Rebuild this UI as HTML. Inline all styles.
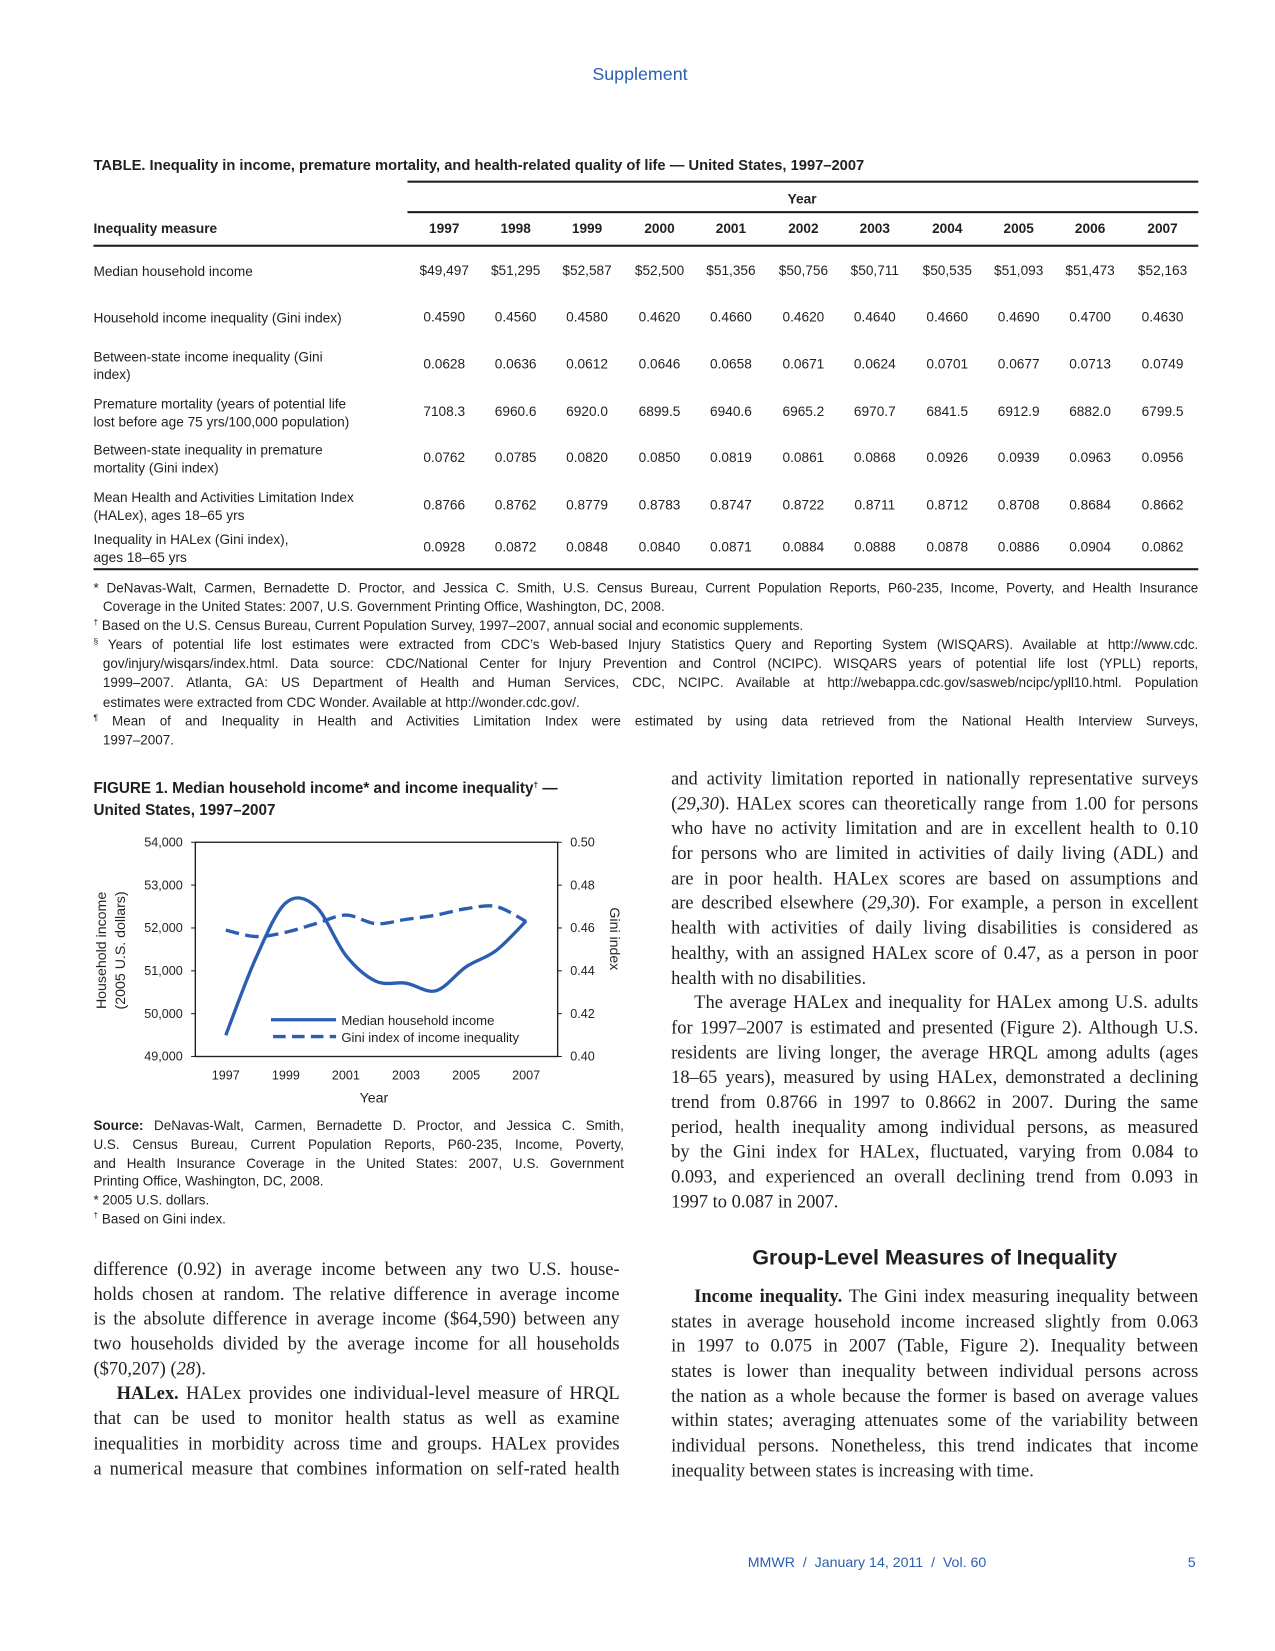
<!DOCTYPE html>
<html><head><meta charset="utf-8">
<style>
html,body{margin:0;padding:0;background:#fff;}
body{width:1275px;height:1651px;overflow:hidden;position:relative;}
#pg{position:absolute;left:0;top:0;width:1214px;height:1572px;transform:scale(1.0502);transform-origin:0 0;font-family:"Liberation Sans",sans-serif;color:#231f20;}
.a{position:absolute;white-space:nowrap;}
.blue{color:#2b5eb0;}
.rule{position:absolute;background:#231f20;}
.t{position:absolute;font-size:13px;line-height:16px;}
.c{position:absolute;font-size:13px;width:70px;text-align:center;}
sup.m{font-size:8px;vertical-align:0;position:relative;top:-5px;line-height:0;}
.fn{position:absolute;left:89px;width:1052px;font-size:12.8px;line-height:18.1px;}
.fn div{white-space:nowrap;text-align:justify;text-align-last:justify;height:18.1px;}
.fn div.e{text-align-last:left;}
.fn div.i{padding-left:9px;}
.col{position:absolute;font-family:"Liberation Serif",serif;font-size:17.6px;line-height:23.7px;}
.col div{white-space:nowrap;text-align:justify;text-align-last:justify;height:23.7px;}
.col div.e{text-align-last:left;}
.col div.p{text-indent:22px;}
.src{position:absolute;left:89px;width:505px;font-size:12.8px;line-height:17.8px;}
.src div{white-space:nowrap;text-align:justify;text-align-last:justify;height:17.8px;}
.src div.e{text-align-last:left;}
</style></head>
<body>
<div id="pg">
<div class="a blue" style="left:564px;top:61px;font-size:17px;">Supplement</div>

<div class="a" style="left:89px;top:149px;font-size:14px;font-weight:bold;">TABLE. Inequality in income, premature mortality, and health-related quality of life — United States, 1997–2007</div>
<div class="rule" style="left:388px;top:172px;width:753px;height:2px;"></div>
<div class="a" style="left:750px;top:182px;font-size:13px;font-weight:bold;">Year</div>
<div class="rule" style="left:388px;top:201px;width:753px;height:1.5px;"></div>
<div class="a" style="left:89px;top:210px;font-size:13px;font-weight:bold;">Inequality measure</div>
<div id="tbl"></div>
<div class="rule" style="left:89px;top:233px;width:1052px;height:2px;"></div>
<div class="rule" style="left:89px;top:541px;width:1052px;height:2px;"></div>

<div class="fn" style="top:551px;">
<div>* DeNavas-Walt, Carmen, Bernadette D. Proctor, and Jessica C. Smith, U.S. Census Bureau, Current Population Reports, P60-235, Income, Poverty, and Health Insurance</div>
<div class="e i">Coverage in the United States: 2007, U.S. Government Printing Office, Washington, DC, 2008.</div>
<div class="e"><sup class="m">†</sup> Based on the U.S. Census Bureau, Current Population Survey, 1997–2007, annual social and economic supplements.</div>
<div><sup class="m">§</sup> Years of potential life lost estimates were extracted from CDC’s Web-based Injury Statistics Query and Reporting System (WISQARS). Available at http://www.cdc.</div>
<div class="i">gov/injury/wisqars/index.html. Data source: CDC/National Center for Injury Prevention and Control (NCIPC). WISQARS years of potential life lost (YPLL) reports,</div>
<div class="i">1999–2007. Atlanta, GA: US Department of Health and Human Services, CDC, NCIPC. Available at http://webappa.cdc.gov/sasweb/ncipc/ypll10.html. Population</div>
<div class="e i">estimates were extracted from CDC Wonder. Available at http://wonder.cdc.gov/.</div>
<div><sup class="m">¶</sup> Mean of and Inequality in Health and Activities Limitation Index were estimated by using data retrieved from the National Health Interview Surveys,</div>
<div class="e i">1997–2007.</div>
</div>

<div class="a" style="left:89px;top:741px;font-size:14.5px;font-weight:bold;line-height:21px;">FIGURE 1. Median household income* and income inequality<sup class="m">†</sup> —<br>United States, 1997–2007</div>

<svg id="chart" style="position:absolute;left:0;top:780px;" width="620" height="280" viewBox="0 780 620 280"></svg>

<div class="src" style="top:1063px;">
<div><b>Source:</b> DeNavas-Walt, Carmen, Bernadette D. Proctor, and Jessica C. Smith,</div>
<div>U.S. Census Bureau, Current Population Reports, P60-235, Income, Poverty,</div>
<div>and Health Insurance Coverage in the United States: 2007, U.S. Government</div>
<div class="e">Printing Office, Washington, DC, 2008.</div>
<div class="e">* 2005 U.S. dollars.</div>
<div class="e"><sup class="m">†</sup> Based on Gini index.</div>
</div>

<div class="col" style="left:89px;top:1197px;width:501px;">
<div>difference (0.92) in average income between any two U.S. house-</div>
<div>holds chosen at random. The relative difference in average income</div>
<div>is the absolute difference in average income ($64,590) between any</div>
<div>two households divided by the average income for all households</div>
<div class="e">($70,207) (<i>28</i>).</div>
<div class="p"><b>HALex.</b> HALex provides one individual-level measure of HRQL</div>
<div>that can be used to monitor health status as well as examine</div>
<div>inequalities in morbidity across time and groups. HALex provides</div>
<div>a numerical measure that combines information on self-rated health</div>
</div>

<div class="col" style="left:639px;top:730px;width:502px;">
<div>and activity limitation reported in nationally representative surveys</div>
<div>(<i>29,30</i>). HALex scores can theoretically range from 1.00 for persons</div>
<div>who have no activity limitation and are in excellent health to 0.10</div>
<div>for persons who are limited in activities of daily living (ADL) and</div>
<div>are in poor health. HALex scores are based on assumptions and</div>
<div>are described elsewhere (<i>29,30</i>). For example, a person in excellent</div>
<div>health with activities of daily living disabilities is considered as</div>
<div>healthy, with an assigned HALex score of 0.47, as a person in poor</div>
<div class="e">health with no disabilities.</div>
<div class="p">The average HALex and inequality for HALex among U.S. adults</div>
<div>for 1997–2007 is estimated and presented (Figure 2). Although U.S.</div>
<div>residents are living longer, the average HRQL among adults (ages</div>
<div>18–65 years), measured by using HALex, demonstrated a declining</div>
<div>trend from 0.8766 in 1997 to 0.8662 in 2007. During the same</div>
<div>period, health inequality among individual persons, as measured</div>
<div>by the Gini index for HALex, fluctuated, varying from 0.084 to</div>
<div>0.093, and experienced an overall declining trend from 0.093 in</div>
<div class="e">1997 to 0.087 in 2007.</div>
</div>

<div class="a" style="left:639px;top:1186px;width:502px;text-align:center;font-size:20.5px;font-weight:bold;">Group-Level Measures of Inequality</div>

<div class="col" style="left:639px;top:1223px;width:502px;">
<div class="p"><b>Income inequality.</b> The Gini index measuring inequality between</div>
<div>states in average household income increased slightly from 0.063</div>
<div>in 1997 to 0.075 in 2007 (Table, Figure 2). Inequality between</div>
<div>states is lower than inequality between individual persons across</div>
<div>the nation as a whole because the former is based on average values</div>
<div>within states; averaging attenuates some of the variability between</div>
<div>individual persons. Nonetheless, this trend indicates that income</div>
<div class="e">inequality between states is increasing with time.</div>
</div>

<div class="a blue" style="left:712px;top:1480px;font-size:13.5px;">MMWR&nbsp; /&nbsp; January 14, 2011&nbsp; /&nbsp; Vol. 60</div>
<div class="a blue" style="left:1131px;top:1480px;font-size:13.5px;">5</div>
</div>

<script>
// ---- Table data ----
const tblYears = ['1997','1998','1999','2000','2001','2002','2003','2004','2005','2006','2007'];
const tblLabels = [
 ['Median household income'],
 ['Household income inequality (Gini index)'],
 ['Between-state income inequality (Gini','index)'],
 ['Premature mortality (years of potential life','lost before age 75 yrs/100,000 population)'],
 ['Between-state inequality in premature','mortality (Gini index)'],
 ['Mean Health and Activities Limitation Index','(HALex),  ages 18–65 yrs'],
 ['Inequality in HALex  (Gini index),','ages 18–65 yrs']
];
const tblRows = [
 ['$49,497','$51,295','$52,587','$52,500','$51,356','$50,756','$50,711','$50,535','$51,093','$51,473','$52,163'],
 ['0.4590','0.4560','0.4580','0.4620','0.4660','0.4620','0.4640','0.4660','0.4690','0.4700','0.4630'],
 ['0.0628','0.0636','0.0612','0.0646','0.0658','0.0671','0.0624','0.0701','0.0677','0.0713','0.0749'],
 ['7108.3','6960.6','6920.0','6899.5','6940.6','6965.2','6970.7','6841.5','6912.9','6882.0','6799.5'],
 ['0.0762','0.0785','0.0820','0.0850','0.0819','0.0861','0.0868','0.0926','0.0939','0.0963','0.0956'],
 ['0.8766','0.8762','0.8779','0.8783','0.8747','0.8722','0.8711','0.8712','0.8708','0.8684','0.8662'],
 ['0.0928','0.0872','0.0848','0.0840','0.0871','0.0884','0.0888','0.0878','0.0886','0.0904','0.0862']
];
const rowY=[258,302,347,392,436,481,521];
const colX=[423,491,559,628,696,765,833,902,970,1038,1107];
const tbl=document.getElementById('tbl');
tblYears.forEach((y,i)=>{
 const d=document.createElement('div');d.className='c';d.style.fontWeight='bold';
 d.style.left=(colX[i]-35)+'px';d.style.top='210px';d.textContent=y;
 
 
 tbl.appendChild(d);
});
tblRows.forEach((r,ri)=>{
 const lab=document.createElement('div');lab.className='t';
 const n=tblLabels[ri].length;
 lab.style.left='89px';lab.style.top=(rowY[ri]-8-(n-1)*8.5)+'px';lab.style.lineHeight='17px';
 lab.innerHTML=tblLabels[ri].join('<br>');
 
 
 tbl.appendChild(lab);
 r.forEach((v,ci)=>{
  const d=document.createElement('div');d.className='c';
  d.style.left=(colX[ci]-35)+'px';d.style.top=(rowY[ri]-8)+'px';d.textContent=v;
  
  
  tbl.appendChild(d);
 });
});

// ---- Chart data ----
const years=[1997,1998,1999,2000,2001,2002,2003,2004,2005,2006,2007];
const income=[49497,51295,52587,52500,51356,50756,50711,50535,51093,51473,52163];
const gini=[0.459,0.456,0.458,0.462,0.466,0.462,0.464,0.466,0.469,0.470,0.463];
const leftTicks=[49000,50000,51000,52000,53000,54000];
const leftTickLabels=['49,000','50,000','51,000','52,000','53,000','54,000'];
const rightTicks=[0.40,0.42,0.44,0.46,0.48,0.50];
const rightTickLabels=['0.40','0.42','0.44','0.46','0.48','0.50'];
const xTicks=[1997,1999,2001,2003,2005,2007];

const L=186,R=531,T=802,B=1006;
const xS=v=>215+(v-1997)*(501-215)/10;
const yL=v=>B-(v-49000)/5000*(B-T);
const yR=v=>B-(v-0.40)/0.10*(B-T);
const svg=document.getElementById('chart');
const NS='http://www.w3.org/2000/svg';
function mk(tag,at,parent){const e=document.createElementNS(NS,tag);for(const k in at)e.setAttribute(k,at[k]);(parent||svg).appendChild(e);return e;}
function txt(x,y,s,anchor,size){const e=mk('text',{x:x,y:y,'text-anchor':anchor,'font-size':size||12,'font-family':'Liberation Sans, sans-serif',fill:'#231f20'});e.textContent=s;return e;}
function spline(pts){let d='M'+pts[0][0]+','+pts[0][1];
 for(let i=0;i<pts.length-1;i++){const p0=pts[i-1]||pts[i],p1=pts[i],p2=pts[i+1],p3=pts[i+2]||p2;
  const c1=[p1[0]+(p2[0]-p0[0])/6,p1[1]+(p2[1]-p0[1])/6],c2=[p2[0]-(p3[0]-p1[0])/6,p2[1]-(p3[1]-p1[1])/6];
  d+=' C'+c1[0]+','+c1[1]+' '+c2[0]+','+c2[1]+' '+p2[0]+','+p2[1];}
 return d;}

const box=mk('rect',{x:L,y:T,width:R-L,height:B-T,fill:'none',stroke:'#231f20','stroke-width':1.3});


leftTicks.forEach((v,i)=>{
 mk('line',{x1:L-4,x2:L,y1:yL(v),y2:yL(v),stroke:'#231f20','stroke-width':1});
 const t=txt(L-12,yL(v)+4,leftTickLabels[i],'end',12);
 
 
});
rightTicks.forEach((v,i)=>{
 mk('line',{x1:R,x2:R+4,y1:yR(v),y2:yR(v),stroke:'#231f20','stroke-width':1});
 const t=txt(R+12,yR(v)+4,rightTickLabels[i],'start',12);
 
 
});
xTicks.forEach(v=>{
 const t=txt(xS(v),1028,String(v),'middle',12);
 
 
});
const xt=txt(356,1050,'Year','middle',13.5);


const yt=mk('text',{transform:'translate(101,905) rotate(-90)','text-anchor':'middle','font-size':13.5,'font-family':'Liberation Sans, sans-serif',fill:'#231f20'});
yt.textContent='Household income';


const yt2=mk('text',{transform:'translate(119,905) rotate(-90)','text-anchor':'middle','font-size':13.5,'font-family':'Liberation Sans, sans-serif',fill:'#231f20'});
yt2.textContent='(2005 U.S. dollars)';


const rt=mk('text',{transform:'translate(581,894) rotate(90)','text-anchor':'middle','font-size':13.5,'font-family':'Liberation Sans, sans-serif',fill:'#231f20'});
rt.textContent='Gini index';



const pInc=mk('path',{d:spline(years.map((y,i)=>[xS(y),yL(income[i])])),fill:'none',stroke:'#2b5eb0','stroke-width':3.2});


const pG=mk('path',{d:spline(years.map((y,i)=>[xS(y),yR(gini[i])])),fill:'none',stroke:'#2b5eb0','stroke-width':3.2,'stroke-dasharray':'13,6'});



const lg=mk('g',{});


mk('line',{x1:258,x2:320,y1:971,y2:971,stroke:'#2b5eb0','stroke-width':3.2},lg);
mk('line',{x1:260,x2:320,y1:987,y2:987,stroke:'#2b5eb0','stroke-width':3.2,'stroke-dasharray':'12,6'},lg);
const l1=txt(325,976,'Median household income','start',12.5);lg.appendChild(l1);


const l2=txt(325,992,'Gini index of income inequality','start',12.5);lg.appendChild(l2);


</script>
</body></html>
